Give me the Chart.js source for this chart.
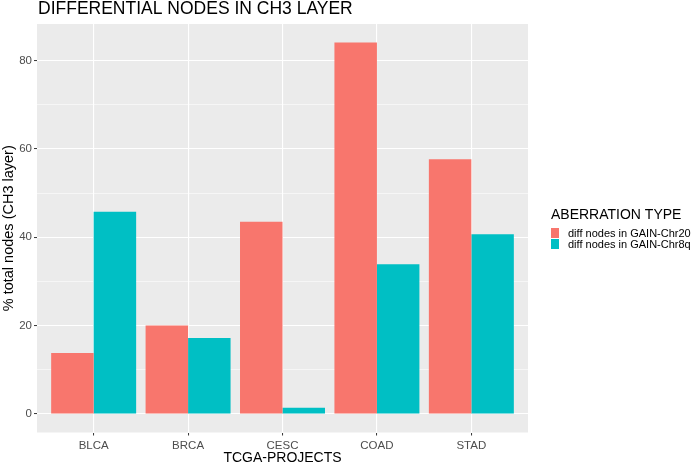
<!DOCTYPE html>
<html>
<head>
<meta charset="utf-8">
<script src="https://cdn.jsdelivr.net/npm/chart.js@4/dist/chart.umd.min.js"></script>
<style>
  html, body { margin: 0; padding: 0; background: #ffffff; }
  #wrap { position: relative; width: 700px; height: 465px; }
</style>
</head>
<body>
<div id="wrap"><canvas id="c" width="700" height="465"></canvas></div>
<script>
const chartTitle = 'DIFFERENTIAL NODES IN CH3 LAYER';
const categories = ['BLCA', 'BRCA', 'CESC', 'COAD', 'STAD'];
const seriesNames = ['diff nodes in GAIN-Chr20', 'diff nodes in GAIN-Chr8q'];
const gainChr20 = [13.8, 20.0, 43.5, 84.1, 57.7];
const gainChr8q = [45.8, 17.2, 1.4, 33.9, 40.7];
const yTicks = [0, 20, 40, 60, 80];
const yMinorTicks = [10, 30, 50, 70];
const legendTitle = 'ABERRATION TYPE';
const xTitle = 'TCGA-PROJECTS';
const yTitle = '% total nodes (CH3 layer)';

const colors = ['#F8766D', '#00BFC4'];
const FONT = "'Liberation Sans', Arial, Helvetica, sans-serif";

const maxVal = Math.max(...gainChr20, ...gainChr8q);
const yMin = -0.05 * maxVal;
const yMax = maxVal * 1.05;

const toPoints = arr => arr.map((v, i) => ({ x: i + 1, y: v }));

const panelBg = {
  id: 'panelBg',
  beforeDraw(chart) {
    const { ctx, chartArea: a } = chart;
    ctx.save();
    ctx.fillStyle = '#EBEBEB';
    ctx.fillRect(a.left, a.top, a.right - a.left, a.bottom - a.top);
    ctx.restore();
  }
};

const decor = {
  id: 'decor',
  afterDraw(chart) {
    const { ctx, chartArea: a } = chart;
    ctx.save();
    ctx.fillStyle = '#000000';
    ctx.textBaseline = 'alphabetic';
    ctx.textAlign = 'left';
    ctx.font = '17.5px ' + FONT;
    ctx.fillText(chartTitle, a.left + 1, 13.5);
    // legend
    const lx = 551;
    ctx.font = '14px ' + FONT;
    ctx.fillText(legendTitle, lx, 219);
    ctx.font = '11px ' + FONT;
    seriesNames.forEach((name, i) => {
      const y0 = 228 + i * 11;
      ctx.fillStyle = colors[i];
      ctx.fillRect(lx, y0, 8, 10);
      ctx.fillStyle = '#000000';
      ctx.fillText(name, 568, y0 + 9);
    });
    ctx.restore();
  }
};

new Chart(document.getElementById('c'), {
  type: 'bar',
  data: {
    datasets: [
      { label: seriesNames[0], data: toPoints(gainChr20), backgroundColor: colors[0], borderWidth: 0 },
      { label: seriesNames[1], data: toPoints(gainChr8q), backgroundColor: colors[1], borderWidth: 0 }
    ]
  },
  options: {
    responsive: false,
    animation: false,
    devicePixelRatio: 1,
    layout: { padding: { left: 0, top: 24, right: 172, bottom: 0 } },
    datasets: { bar: { categoryPercentage: 0.9, barPercentage: 1.0 } },
    plugins: { legend: { display: false }, tooltip: { enabled: false }, title: { display: false } },
    scales: {
      x: {
        type: 'linear',
        min: 0.4,
        max: 5.6,
        offset: false,
        border: { display: false },
        grid: {
          offset: false,
          color: '#FFFFFF',
          lineWidth: 1.1,
          drawTicks: true,
          tickLength: 3,
          tickColor: '#333333',
          tickWidth: 1
        },
        afterBuildTicks(scale) { scale.ticks = categories.map((c, i) => ({ value: i + 1 })); },
        afterFit(scale) { scale.height = 32.5; },
        ticks: {
          autoSkip: false,
          maxRotation: 0,
          padding: 3,
          color: '#4D4D4D',
          font: { family: FONT, size: 11.5 },
          callback: v => categories[v - 1] || ''
        },
        title: {
          display: true,
          text: xTitle,
          color: '#000000',
          font: { family: FONT, size: 14 },
          padding: { top: 0, bottom: -2 }
        }
      },
      y: {
        min: yMin,
        max: yMax,
        border: { display: false },
        afterBuildTicks(scale) {
          scale.ticks = [...yTicks, ...yMinorTicks].sort((a, b) => a - b).map(v => ({ value: v }));
        },
        afterFit(scale) { scale.width = 37; },
        grid: {
          color: '#FFFFFF',
          lineWidth: c => (yTicks.includes(c.tick.value) ? 1.1 : 0.55),
          drawTicks: true,
          tickLength: 3,
          tickColor: c => (yTicks.includes(c.tick.value) ? '#333333' : 'rgba(0,0,0,0)'),
          tickWidth: 1
        },
        ticks: {
          autoSkip: false,
          padding: 2,
          color: '#4D4D4D',
          font: { family: FONT, size: 11.5 },
          callback: v => (yTicks.includes(v) ? String(v) : '')
        },
        title: {
          display: true,
          text: yTitle,
          color: '#000000',
          font: { family: FONT, size: 14.5 },
          padding: { top: 0, bottom: 0 }
        }
      }
    }
  },
  plugins: [panelBg, decor]
});
</script>
</body>
</html>
